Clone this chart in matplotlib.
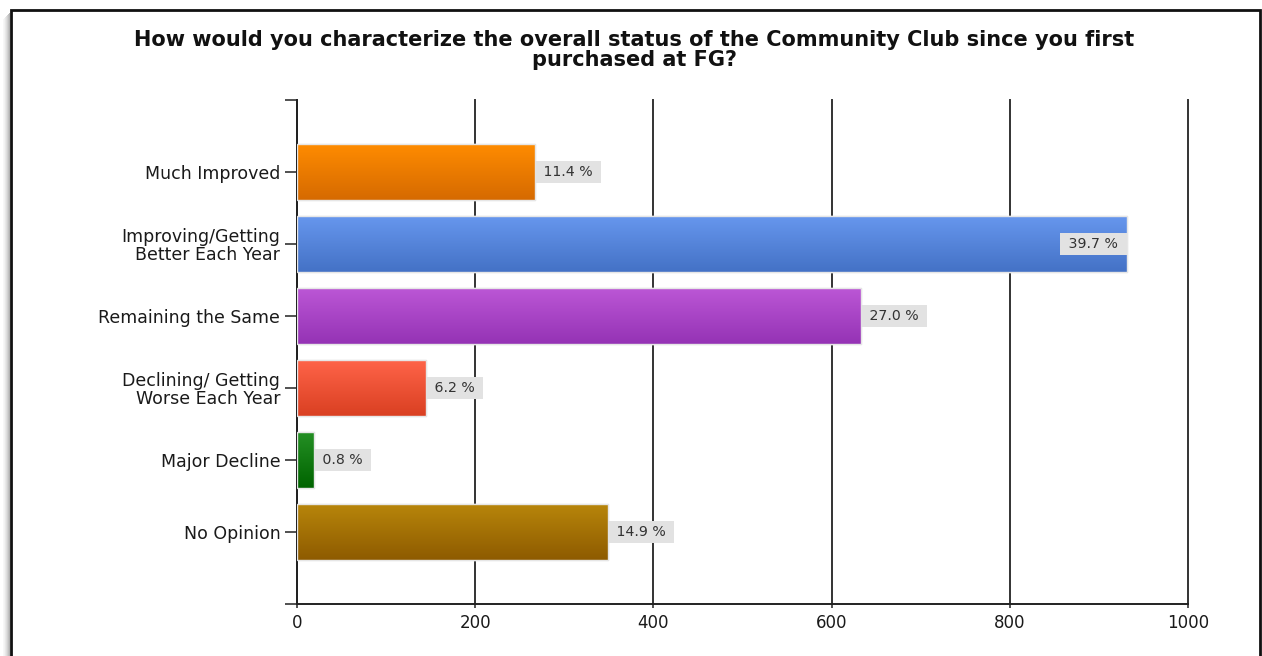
import numpy as np
import matplotlib
matplotlib.use("Agg")
import matplotlib.pyplot as plt
from matplotlib.patches import Rectangle
from matplotlib.lines import Line2D
from matplotlib.colors import LinearSegmentedColormap

plt.rcParams['font.family'] = ['DejaVu Sans']

title = "How would you characterize the overall status of the Community Club since you first\npurchased at FG?"
categories = ["Much Improved", "Improving/Getting\nBetter Each Year", "Remaining the Same",
              "Declining/ Getting\nWorse Each Year", "Major Decline", "No Opinion"]
counts = [267, 931, 633, 145, 19, 349]
percent_labels = ["11.4 %", "39.7 %", "27.0 %", "6.2 %", "0.8 %", "14.9 %"]
label_inside = [False, True, False, False, False, False]
top_colors = ["#FF8C00", "#6797EE", "#BC57D6", "#FF6449", "#259025", "#B8860B"]
bottom_colors = ["#D66A00", "#4472C6", "#9533B5", "#DA4022", "#006400", "#8E5B00"]
xticks = [0, 200, 400, 600, 800, 1000]

W, H = 1262, 656
fig = plt.figure(figsize=(W / 100, H / 100), dpi=100)

# soft shadow on the left of the outer frame
for k, a in zip(range(1, 8), [0.30, 0.24, 0.18, 0.13, 0.09, 0.05, 0.03]):
    x = (10 - k) / W
    fig.add_artist(Line2D([x, x], [-0.05, 1 - (12 + k) / H], transform=fig.transFigure,
                          color='black', alpha=a, lw=0.72))
# outer frame
fig.patches.append(Rectangle((10.5 / W, -0.05), 1249 / W, 1.05 - 10 / H, transform=fig.transFigure,
                             fill=False, lw=2, ec='#111111'))

ax = fig.add_axes([297 / W, 1 - 604 / H, 891 / W, 504 / H])
ypos = np.arange(len(categories))
bar_h = 0.79
bars = ax.barh(ypos, counts, height=bar_h, color=top_colors, edgecolor='#e6e6e6', linewidth=1, zorder=2)

grad = np.linspace(0, 1, 64).reshape(-1, 1)
for b, c0, c1 in zip(bars, top_colors, bottom_colors):
    cmap = LinearSegmentedColormap.from_list('g', [c0, c1])
    x0, y0 = b.get_x(), b.get_y()
    w, h = b.get_width(), b.get_height()
    im = ax.imshow(grad, cmap=cmap, extent=(x0, x0 + w, y0 + h, y0), origin='upper',
                   aspect='auto', zorder=2.5, interpolation='bilinear')
    im.set_clip_path(b)
    ax.add_patch(Rectangle((x0, y0), w, h, fill=False, ec='#e6e6e6', lw=1, zorder=3))

lab_fs = 10.2
pad = 0.27
for i, (v, lab, inside) in enumerate(zip(counts, percent_labels, label_inside)):
    off = pad * lab_fs
    ax.annotate(" " + lab + " ", xy=(v, i), xytext=(-off if inside else off, 0),
                textcoords='offset points', ha='right' if inside else 'left', va='center',
                fontsize=lab_fs, color='#333333', zorder=4,
                bbox=dict(boxstyle='square,pad=%g' % pad, fc='#e2e2e2', ec='none'))

ax.set_xlim(0, 1000)
ax.set_ylim(6, -1)
ax.set_xticks(xticks)
ax.set_yticks(ypos)
ax.set_yticklabels(categories)
ax.set_yticks([-1, 6], minor=True)
ax.tick_params(axis='y', which='both', length=9, width=1.2, color='#333333', pad=3,
               labelsize=12.5, labelcolor='#1a1a1a')
ax.tick_params(axis='x', length=3, width=1.2, color='#333333', pad=4,
               labelsize=12, labelcolor='#1a1a1a')
for t in ax.get_yticklabels():
    t.set_multialignment('right')
    t.set_linespacing(0.98)

ax.grid(axis='x', color='#333333', lw=1.4, zorder=0)
for gl in ax.xaxis.get_gridlines():
    gl.set_clip_on(False)
ax.set_axisbelow(True)
for s in ['top', 'right']:
    ax.spines[s].set_visible(False)
ax.spines['left'].set_color('#222222')
ax.spines['left'].set_linewidth(1.4)
ax.spines['bottom'].set_color('#222222')
ax.spines['bottom'].set_linewidth(1.4)
ax.set_facecolor('none')

fig.text(634 / W, 1 - 50 / H, title, ha='center', va='center', fontsize=15,
         fontweight='bold', color='#111111', linespacing=0.95)

fig.savefig('out.png', dpi=100)
